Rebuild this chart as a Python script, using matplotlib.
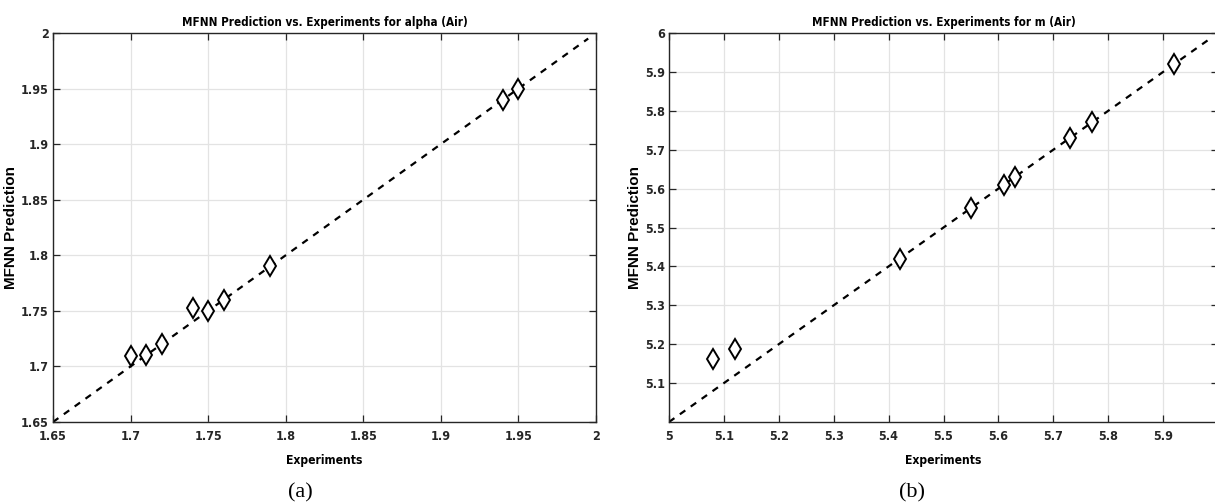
import matplotlib
matplotlib.use('Agg')
import matplotlib.pyplot as plt

# data
alpha_exp = [1.70, 1.71, 1.72, 1.74, 1.75, 1.76, 1.79, 1.94, 1.95]
alpha_pred = [1.709, 1.710, 1.720, 1.753, 1.750, 1.760, 1.790, 1.940, 1.950]
alpha_line = [1.65, 1.995]
alpha_ticks = [1.65, 1.7, 1.75, 1.8, 1.85, 1.9, 1.95, 2]

m_exp = [5.08, 5.12, 5.42, 5.55, 5.61, 5.63, 5.73, 5.77, 5.92]
m_pred = [5.163, 5.188, 5.420, 5.550, 5.610, 5.630, 5.730, 5.770, 5.920]
m_line = [5.0, 5.99]
m_xticks = [5.0, 5.1, 5.2, 5.3, 5.4, 5.5, 5.6, 5.7, 5.8, 5.9, 6.0]
m_yticks = [5.1, 5.2, 5.3, 5.4, 5.5, 5.6, 5.7, 5.8, 5.9, 6.0]

# condensed bold font to mimic the MATLAB look
cond = dict(fontfamily='DejaVu Sans', fontstretch='condensed', fontweight='bold')

fig = plt.figure(figsize=(12.15, 5.04), dpi=100)
ax1 = fig.add_axes([0.0436, 0.1627, 0.4469, 0.7718])
ax2 = fig.add_axes([0.5506, 0.1627, 0.4519, 0.7718])


def fmt(v):
    return ('%g' % v)


def style(ax, title, xt, yt, xlim, ylim):
    ax.set_xlim(xlim)
    ax.set_ylim(ylim)
    ax.set_xticks(xt)
    ax.set_yticks(yt)
    ax.set_xticklabels([fmt(v) for v in xt], fontsize=9, **cond)
    ax.set_yticklabels([fmt(v) for v in yt], fontsize=9, **cond)
    ax.tick_params(axis='x', pad=6)
    ax.tick_params(axis='y', pad=3)
    ax.tick_params(direction='in', length=5, width=0.9, top=True, right=True, colors='#262626')
    ax.grid(True, color='#e3e3e3', linewidth=0.9)
    ax.set_axisbelow(True)
    for s in ax.spines.values():
        s.set_linewidth(1.0)
        s.set_color('#262626')
    ax.set_title(title, fontsize=8.4, pad=5, **cond)
    ax.set_xlabel('Experiments', fontsize=8.7, labelpad=8, **cond)
    ax.set_ylabel('MFNN Prediction', fontfamily='Liberation Sans', fontweight='bold',
                  fontsize=11, labelpad=2)


ax1.plot(alpha_line, alpha_line, linestyle=(0, (3, 3)), color='black', linewidth=1.6)
ax1.plot(alpha_exp, alpha_pred, linestyle='none', marker='d', markersize=10,
         markerfacecolor='white', markeredgecolor='black', markeredgewidth=1.4)
style(ax1, 'MFNN Prediction vs. Experiments for alpha (Air)', alpha_ticks, alpha_ticks,
      (1.65, 2.0), (1.65, 2.0))

ax2.plot(m_line, m_line, linestyle=(0, (3, 3)), color='black', linewidth=1.6)
ax2.plot(m_exp, m_pred, linestyle='none', marker='d', markersize=10,
         markerfacecolor='white', markeredgecolor='black', markeredgewidth=1.4)
style(ax2, 'MFNN Prediction vs. Experiments for m (Air)', m_xticks, m_yticks,
      (5.0, 6.0), (5.0, 6.0))

fig.text(0.247, 0.012, '(a)', fontfamily='Liberation Serif', fontsize=16, ha='center', va='baseline')
fig.text(0.751, 0.012, '(b)', fontfamily='Liberation Serif', fontsize=16, ha='center', va='baseline')

fig.savefig('out.png', dpi=100)
